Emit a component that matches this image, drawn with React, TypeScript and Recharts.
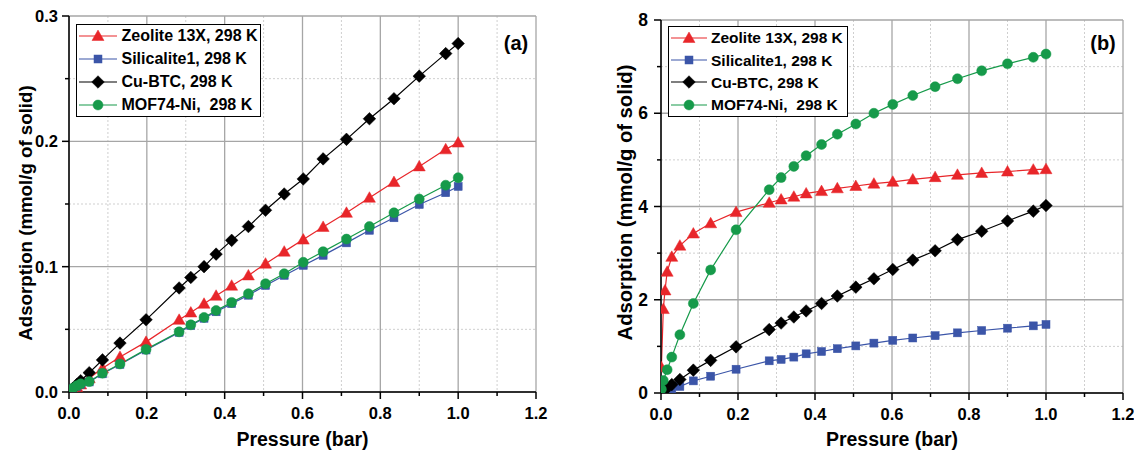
import React from 'react';
import { LineChart, Line, XAxis, YAxis, CartesianGrid, Legend, Label } from 'recharts';

const FONT = '"Liberation Sans", Arial, Helvetica, sans-serif';

// ---------- series meta ----------
const seriesNames = ['Zeolite 13X, 298 K', 'Silicalite1, 298 K', 'Cu-BTC, 298 K', 'MOF74-Ni,  298 K'];
const seriesColors = ['#e8262a', '#3b55a8', '#000000', '#169a4a'];
const seriesShapes = ['triangle', 'square', 'diamond', 'circle'];

// ---------- axis ticks ----------
const xTicks = [0, 0.1, 0.2, 0.3, 0.4, 0.5, 0.6, 0.7, 0.8, 0.9, 1.0, 1.1, 1.2];
const xMajor = [0, 0.2, 0.4, 0.6, 0.8, 1.0, 1.2];
const xMinor = [0.1, 0.3, 0.5, 0.7, 0.9, 1.1];
const yTicksA = [0, 0.05, 0.1, 0.15, 0.2, 0.25, 0.3];
const yMajorA = [0, 0.1, 0.2, 0.3];
const yMinorA = [0.05, 0.15, 0.25];
const yTicksB = [0, 1, 2, 3, 4, 5, 6, 7, 8];
const yMajorB = [0, 2, 4, 6, 8];
const yMinorB = [1, 3, 5, 7];

// ---------- data (a) ----------
const pressureA = [0.004, 0.01, 0.02, 0.03, 0.052, 0.086, 0.131, 0.198, 0.283, 0.313, 0.347, 0.378, 0.418, 0.461, 0.505, 0.553, 0.602, 0.653, 0.713, 0.772, 0.835, 0.9, 0.968, 1.0];
const zeoliteA = [0.0008, 0.002, 0.004, 0.006, 0.011, 0.019, 0.028, 0.04, 0.0576, 0.0634, 0.0704, 0.0768, 0.0848, 0.093, 0.1024, 0.112, 0.1216, 0.1317, 0.143, 0.155, 0.1675, 0.18, 0.1936, 0.199];
const silicaliteA = [0.001, 0.0025, 0.0045, 0.006, 0.008, 0.0145, 0.022, 0.0335, 0.0475, 0.053, 0.0588, 0.064, 0.0705, 0.0772, 0.085, 0.093, 0.101, 0.109, 0.119, 0.129, 0.139, 0.1496, 0.159, 0.164];
const cubtcA = [0.0012, 0.003, 0.006, 0.009, 0.0154, 0.0256, 0.039, 0.0576, 0.083, 0.0914, 0.1, 0.11, 0.121, 0.132, 0.145, 0.158, 0.17, 0.186, 0.2016, 0.218, 0.234, 0.252, 0.27, 0.278];
const mofA = [0.0012, 0.003, 0.005, 0.0065, 0.0083, 0.015, 0.0224, 0.034, 0.048, 0.0536, 0.0595, 0.065, 0.0715, 0.0784, 0.0864, 0.0944, 0.1035, 0.112, 0.122, 0.132, 0.143, 0.154, 0.165, 0.171];

// ---------- data (b) ----------
const pressureZeoB = [0.001, 0.006, 0.0104, 0.016, 0.028, 0.049, 0.084, 0.129, 0.195, 0.281, 0.312, 0.345, 0.377, 0.417, 0.458, 0.506, 0.553, 0.602, 0.654, 0.712, 0.77, 0.833, 0.9, 0.967, 1.0];
const zeoliteB = [0.55, 1.8, 2.2, 2.6, 2.92, 3.16, 3.42, 3.64, 3.88, 4.08, 4.15, 4.21, 4.28, 4.33, 4.39, 4.44, 4.49, 4.53, 4.58, 4.63, 4.68, 4.72, 4.75, 4.79, 4.8];
const pressureSilB = [0.016, 0.028, 0.049, 0.084, 0.129, 0.195, 0.281, 0.312, 0.345, 0.377, 0.417, 0.458, 0.506, 0.553, 0.602, 0.654, 0.712, 0.77, 0.833, 0.9, 0.967, 1.0];
const silicaliteB = [0.04, 0.08, 0.14, 0.26, 0.36, 0.51, 0.69, 0.72, 0.77, 0.84, 0.89, 0.95, 1.01, 1.07, 1.13, 1.18, 1.23, 1.29, 1.34, 1.39, 1.44, 1.47];
const pressureCuB = [0.006, 0.016, 0.028, 0.049, 0.084, 0.129, 0.195, 0.281, 0.312, 0.345, 0.377, 0.417, 0.458, 0.506, 0.553, 0.602, 0.654, 0.712, 0.77, 0.833, 0.9, 0.967, 1.0];
const cubtcB = [0.04, 0.11, 0.18, 0.29, 0.49, 0.7, 0.99, 1.36, 1.5, 1.63, 1.76, 1.92, 2.08, 2.27, 2.45, 2.65, 2.85, 3.05, 3.29, 3.47, 3.69, 3.9, 4.02];
const pressureMofB = [0.001, 0.006, 0.016, 0.028, 0.049, 0.084, 0.129, 0.195, 0.281, 0.312, 0.345, 0.377, 0.417, 0.458, 0.506, 0.553, 0.602, 0.654, 0.712, 0.77, 0.833, 0.9, 0.967, 1.0];
const mofB = [0.08, 0.27, 0.5, 0.77, 1.25, 1.92, 2.64, 3.5, 4.36, 4.62, 4.86, 5.09, 5.33, 5.55, 5.77, 6.0, 6.19, 6.38, 6.57, 6.74, 6.91, 7.06, 7.2, 7.27];

const zip = (ps: number[], vs: number[]) => ps.map((p, i) => ({ p, v: vs[i] }));

const panelA = [zip(pressureA, zeoliteA), zip(pressureA, silicaliteA), zip(pressureA, cubtcA), zip(pressureA, mofA)];
const panelB = [zip(pressureZeoB, zeoliteB), zip(pressureSilB, silicaliteB), zip(pressureCuB, cubtcB), zip(pressureMofB, mofB)];

// ---------- markers ----------
function Marker({ shape, cx, cy, color }: { shape: string; cx: number; cy: number; color: string }) {
  if (shape === 'triangle') {
    return <polygon points={`${cx},${cy - 6} ${cx + 6},${cy + 4.5} ${cx - 6},${cy + 4.5}`} fill={color} stroke={color} strokeWidth={0.5} />;
  }
  if (shape === 'square') {
    return <rect x={cx - 4} y={cy - 4} width={8} height={8} fill={color} stroke={color} strokeWidth={0.5} />;
  }
  if (shape === 'diamond') {
    return <polygon points={`${cx},${cy - 6.3} ${cx + 6.3},${cy} ${cx},${cy + 6.3} ${cx - 6.3},${cy}`} fill={color} stroke={color} strokeWidth={0.5} />;
  }
  return <circle cx={cx} cy={cy} r={5} fill={color} stroke={color} strokeWidth={0.5} />;
}

const makeDot = (i: number) => (props: any) => {
  const { cx, cy, index } = props;
  if (cx == null || cy == null) return <g key={`d-${i}-${index}`} />;
  return (
    <g key={`d-${i}-${index}`}>
      <Marker shape={seriesShapes[i]} cx={cx} cy={cy} color={seriesColors[i]} />
    </g>
  );
};

// ---------- ticks ----------
const isIn = (arr: number[], v: number) => arr.some((m) => Math.abs(m - v) < 1e-9);

const makeXTick = (major: number[]) => (props: any) => {
  const { x, y, payload } = props;
  const v = payload.value;
  const mj = isIn(major, v);
  return (
    <g>
      <line x1={x} y1={y} x2={x} y2={y + (mj ? 7 : 4)} stroke="#000" strokeWidth={1.5} />
      {mj && (
        <text x={x} y={y + 27} textAnchor="middle" fontFamily={FONT} fontWeight="bold" fontSize={16.5} fill="#000">
          {v.toFixed(1)}
        </text>
      )}
    </g>
  );
};

const makeYTick = (major: number[], fmt: (v: number) => string, gap: number, fs: number) => (props: any) => {
  const { x, y, payload } = props;
  const v = payload.value;
  const mj = isIn(major, v);
  return (
    <g>
      <line x1={x} y1={y} x2={x - (mj ? 7 : 4)} y2={y} stroke="#000" strokeWidth={1.5} />
      {mj && (
        <text x={x - gap} y={y + 6} textAnchor="end" fontFamily={FONT} fontWeight="bold" fontSize={fs} fill="#000">
          {fmt(v)}
        </text>
      )}
    </g>
  );
};

// ---------- legend ----------
const makeLegend = (rowH: number, svgW: number, gap: number, boxW: number, fs: number) => () => (
  <div
    style={{
      border: '1.5px solid #000',
      background: '#fff',
      width: boxW,
      boxSizing: 'border-box',
      padding: '0 0 0 2px',
      fontFamily: FONT,
      fontWeight: 'bold',
      fontSize: fs,
      color: '#000',
      lineHeight: 1,
    }}
  >
    {seriesNames.map((name, i) => (
      <div key={name} style={{ display: 'flex', alignItems: 'center', height: rowH }}>
        <svg width={svgW} height={16} style={{ display: 'block', flex: 'none' }}>
          <line x1={0} y1={8} x2={svgW} y2={8} stroke={seriesColors[i]} strokeWidth={1.2} />
          <Marker shape={seriesShapes[i]} cx={svgW / 2} cy={8} color={seriesColors[i]} />
        </svg>
        <span style={{ marginLeft: gap, whiteSpace: 'pre' }}>{name}</span>
      </div>
    ))}
  </div>
);

const yTitle = (cxOffset: number, cyShift: number, fs: number) => (p: any) => {
  const vb = p.viewBox || {};
  const cx = (vb.x || 0) + cxOffset;
  const cy = (vb.y || 0) + (vb.height || 0) / 2 + cyShift;
  return (
    <text
      x={cx}
      y={cy}
      transform={`rotate(-90, ${cx}, ${cy})`}
      textAnchor="middle"
      dominantBaseline="central"
      fontFamily={FONT}
      fontWeight="bold"
      fontSize={fs}
      fill="#000"
    >
      Adsorption (mmol/g of solid)
    </text>
  );
};

const xTitle = (baselineOffset: number) => (p: any) => {
  const vb = p.viewBox || {};
  const cx = (vb.x || 0) + (vb.width || 0) / 2;
  const y = (vb.y || 0) + baselineOffset;
  return (
    <text x={cx} y={y} textAnchor="middle" fontFamily={FONT} fontWeight="bold" fontSize={19.5} fill="#000">
      Pressure (bar)
    </text>
  );
};

type PanelProps = {
  data: { p: number; v: number }[][];
  width: number;
  height: number;
  margin: { top: number; right: number; bottom: number; left: number };
  yAxisWidth: number;
  xAxisHeight: number;
  yDomain: [number, number];
  yTicks: number[];
  yMajor: number[];
  yMinor: number[];
  yFmt: (v: number) => string;
  yTickGap: number;
  yTickFont: number;
  yTitleOffset: number;
  yTitleShift: number;
  yTitleFont: number;
  legend: () => React.ReactElement;
  legendPos: { left: number; top: number };
};

function Panel(props: PanelProps) {
  const {
    data, width, height, margin, yAxisWidth, xAxisHeight, yDomain, yTicks, yMajor, yMinor, yFmt,
    yTickGap, yTickFont, yTitleOffset, yTitleShift, yTitleFont, legend, legendPos,
  } = props;
  return (
    <LineChart width={width} height={height} margin={margin}>
      <CartesianGrid horizontalValues={yMinor} verticalValues={xMinor} stroke="#cfcfcf" strokeDasharray="2 2" strokeWidth={1} />
      <CartesianGrid horizontalValues={yMajor} verticalValues={xMajor} stroke="#a6a6a6" strokeWidth={1.3} />
      <XAxis
        type="number"
        dataKey="p"
        domain={[0, 1.2]}
        ticks={xTicks}
        interval={0}
        tickSize={0}
        tickMargin={0}
        tickLine={false}
        tick={makeXTick(xMajor)}
        axisLine={{ stroke: '#000', strokeWidth: 1.5 }}
        height={xAxisHeight}
        allowDataOverflow
      >
        <Label content={xTitle(xAxisHeight - 5)} />
      </XAxis>
      <YAxis
        type="number"
        domain={yDomain}
        ticks={yTicks}
        interval={0}
        tickSize={0}
        tickMargin={0}
        tickLine={false}
        tick={makeYTick(yMajor, yFmt, yTickGap, yTickFont)}
        axisLine={{ stroke: '#000', strokeWidth: 1.5 }}
        width={yAxisWidth}
        allowDataOverflow
      >
        <Label content={yTitle(yTitleOffset, yTitleShift, yTitleFont)} />
      </YAxis>
      <Legend
        layout="vertical"
        align="center"
        verticalAlign="middle"
        content={legend}
        wrapperStyle={{ left: legendPos.left, top: legendPos.top, width: 'auto' }}
      />
      {data.map((d, i) => (
        <Line
          key={seriesNames[i]}
          data={d}
          dataKey="v"
          name={seriesNames[i]}
          type="linear"
          stroke={seriesColors[i]}
          strokeWidth={1.2}
          dot={makeDot(i)}
          activeDot={false}
          isAnimationActive={false}
        />
      ))}
    </LineChart>
  );
}

export default function App() {
  return (
    <div style={{ position: 'absolute', left: 0, top: 0, width: 1134, height: 451, background: '#fff', overflow: 'hidden', fontFamily: FONT }}>
      <div style={{ position: 'absolute', left: 0, top: 0 }}>
        <Panel
          data={panelA}
          width={560}
          height={451}
          margin={{ top: 16, right: 24, bottom: 0, left: 0 }}
          yAxisWidth={69}
          xAxisHeight={59}
          yDomain={[0, 0.3]}
          yTicks={yTicksA}
          yMajor={yMajorA}
          yMinor={yMinorA}
          yFmt={(v) => v.toFixed(1)}
          yTickGap={11}
          yTickFont={16.5}
          yTitleOffset={25}
          yTitleShift={9}
          yTitleFont={18.7}
          legend={makeLegend(22.8, 38, 4.5, 185, 16)}
          legendPos={{ left: 76, top: 24 }}
        />
      </div>
      <div style={{ position: 'absolute', left: 567, top: 0 }}>
        <Panel
          data={panelB}
          width={567}
          height={451}
          margin={{ top: 20, right: 11, bottom: 0, left: 0 }}
          yAxisWidth={94}
          xAxisHeight={58}
          yDomain={[0, 8]}
          yTicks={yTicksB}
          yMajor={yMajorB}
          yMinor={yMinorB}
          yFmt={(v) => String(v)}
          yTickGap={13}
          yTickFont={17.5}
          yTitleOffset={58}
          yTitleShift={-4}
          yTitleFont={20.2}
          legend={makeLegend(22.2, 36, 4, 180, 15.5)}
          legendPos={{ left: 101, top: 26 }}
        />
      </div>
      <div style={{ position: 'absolute', left: 516, top: 43, transform: 'translate(-50%, -50%)', fontWeight: 'bold', fontSize: 20, color: '#000', lineHeight: 1 }}>(a)</div>
      <div style={{ position: 'absolute', left: 1103, top: 43, transform: 'translate(-50%, -50%)', fontWeight: 'bold', fontSize: 20, color: '#000', lineHeight: 1 }}>(b)</div>
    </div>
  );
}
